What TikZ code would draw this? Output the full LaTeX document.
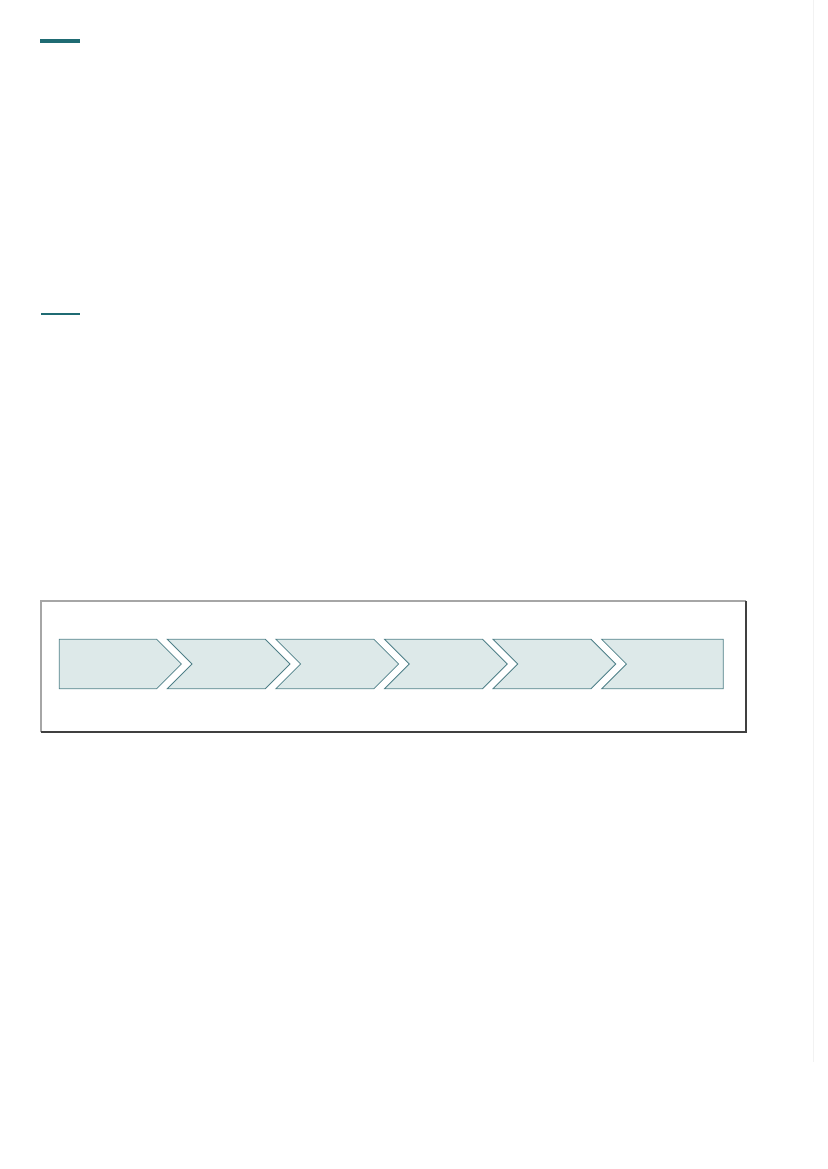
\documentclass[tikz,border=0pt]{standalone}
\begin{document}
\begin{tikzpicture}[x=0.254mm, y=-0.254mm,
        rule_thick/.style={draw=teal_dark, line width=2.2pt},
        rule_thin/.style={draw=teal_dark, line width=1.4pt},
        stage/.style={fill=stage_fill, draw=stage_line, line width=0.6pt, line join=miter},
        frame_light/.style={draw=gray!70, line width=0.8pt},
        frame_dark/.style={draw=black!75, line width=0.8pt}
    ]
    \definecolor{teal_dark}{HTML}{1F6B73}
    \definecolor{stage_fill}{HTML}{DDE9E9}
    \definecolor{stage_line}{HTML}{4F8088}

    \useasboundingbox[fill=white] (0,0) rectangle (827,1169);

    % --- righe di intestazione ---
    \coordinate (r1a) at (40,41);
    \coordinate (r1b) at (80,41);
    \draw[rule_thick] (r1a) -- (r1b);
    \coordinate (r2a) at (41,314);
    \coordinate (r2b) at (80,314);
    \draw[rule_thin] (r2a) -- (r2b);

    % --- margine destro ---
    \coordinate (ma) at (813,0);
    \coordinate (mb) at (813,1062);
    \draw[black!5, line width=0.5pt] (ma) -- (mb);

    % --- cornice ---
    \coordinate (f_sw) at (41,732);
    \coordinate (f_nw) at (41,601);
    \coordinate (f_ne) at (746,601);
    \coordinate (f_se) at (746,732);
    \draw[frame_light] (f_sw) -- (f_nw) -- (f_ne);
    \draw[frame_dark] (f_ne) -- (f_se) -- (f_sw);

    % --- fasi ---
    % prima fase (lato sinistro piatto)
    \draw[stage] (59.3,639.3) -- (156.7,639.3) -- (181.4,664) -- (156.7,688.7) -- (59.3,688.7) -- cycle;
    % fasi intermedie
    \foreach \i in {0,...,3} {
        \pgfmathsetmacro\xs{167.3+108.6*\i}
        \draw[stage] (\xs,639.3) -- ++(98,0) -- ++(24.7,24.7) -- ++(-24.7,24.7)
            -- ++(-98,0) -- ++(24.7,-24.7) -- cycle;
    }
    % ultima fase (lato destro piatto)
    \draw[stage] (601.7,639.3) -- (723.3,639.3) -- (723.3,688.7) -- (601.7,688.7) -- (626.4,664) -- cycle;

\end{tikzpicture}
\end{document}
